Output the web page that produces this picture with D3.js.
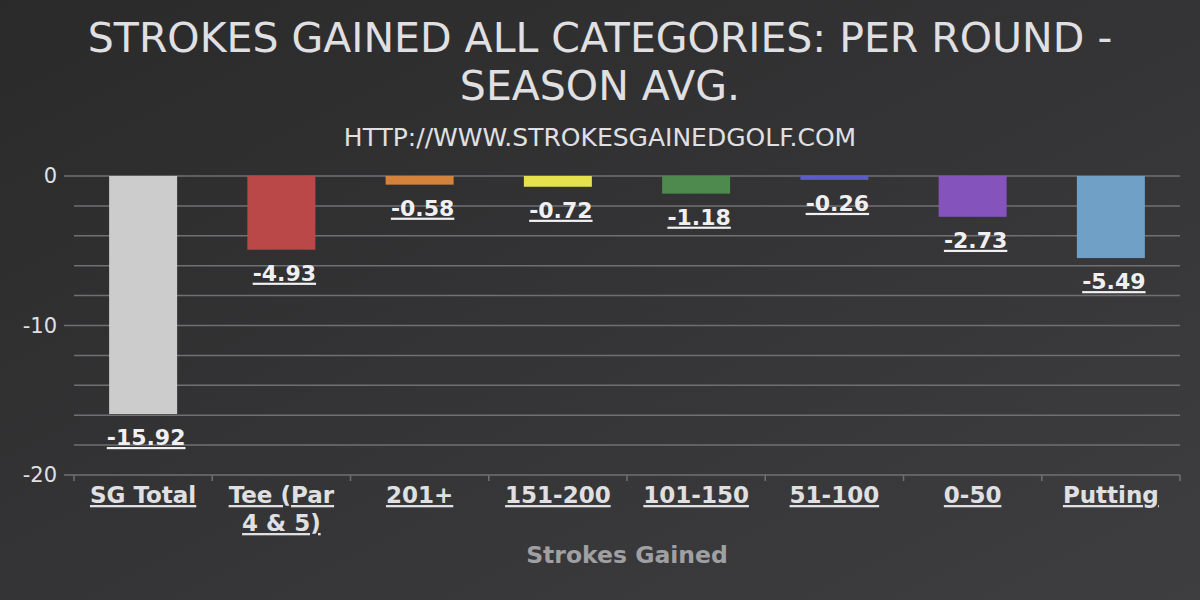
<!DOCTYPE html>
<html><head><meta charset="utf-8">
<script src="https://cdn.jsdelivr.net/npm/d3@7"></script>
<style>
html,body{margin:0;padding:0;background:#2a2a2b;}
svg text{font-family:"DejaVu Sans",Verdana,sans-serif;}
</style></head>
<body>
<svg id="chart" width="1200" height="600"></svg>
<script>
const categories = ["SG Total","Tee (Par 4 & 5)","201+","151-200","101-150","51-100","0-50","Putting"];
const values = [-15.92,-4.93,-0.58,-0.72,-1.18,-0.26,-2.73,-5.49];
const colors = ["#cccccc","#bb4848","#d4823c","#e6e24e","#4e8a4e","#5b5bcc","#8453bb","#70a0c5"];
const yTicks = [0,-10,-20];
const gridTicks = d3.range(0,-21,-2);
const titleLines = ["STROKES GAINED ALL CATEGORIES: PER ROUND -","SEASON AVG."];
const subtitle = "HTTP://WWW.STROKESGAINEDGOLF.COM";
const xTitle = "Strokes Gained";

(function(){
const svg = d3.select("#chart");
const W=1200,H=600;
const defs = svg.append("defs");
const grad = defs.append("linearGradient").attr("id","bg").attr("x1",0).attr("y1",0).attr("x2",1).attr("y2",1);
grad.append("stop").attr("offset","0%").attr("stop-color","#2a2a2b");
grad.append("stop").attr("offset","100%").attr("stop-color","#3e3e40");
svg.append("rect").attr("width",W).attr("height",H).attr("fill","url(#bg)");

const pL=74,pR=1180,pT=176,pB=475;
const x = d3.scaleBand().domain(categories).range([pL,pR]).paddingInner(0).paddingOuter(0);
const y = d3.scaleLinear().domain([-20,0]).range([pB,pT]);

svg.append("g").selectAll("line").data(gridTicks).join("line")
  .attr("x1",d=>yTicks.includes(d)?64:pL).attr("x2",pR)
  .attr("y1",d=>y(d)).attr("y2",d=>y(d))
  .attr("stroke","#707073").attr("stroke-width",1.5);

svg.append("g").selectAll("text").data(yTicks).join("text")
  .attr("x",57).attr("y",d=>y(d)).attr("dy","0.35em").attr("text-anchor","end")
  .attr("fill","#E0E0E3").style("font-size","21px").text(d=>d);

svg.append("g").selectAll("line").data(d3.range(categories.length+1)).join("line")
  .attr("x1",i=>pL+i*x.bandwidth()).attr("x2",i=>pL+i*x.bandwidth())
  .attr("y1",pB).attr("y2",pB+6).attr("stroke","#707073").attr("stroke-width",1.5);

const bw = 68;
svg.append("g").selectAll("rect").data(values).join("rect")
  .attr("x",(d,i)=>x(categories[i])+x.bandwidth()/2-bw/2)
  .attr("width",bw)
  .attr("y",y(0)).attr("height",d=>y(d)-y(0))
  .attr("fill",(d,i)=>colors[i]);

svg.append("g").selectAll("text").data(values).join("text")
  .attr("x",(d,i)=>x(categories[i])+x.bandwidth()/2+3)
  .attr("y",d=>y(d)+31)
  .attr("text-anchor","middle").attr("fill","#F0F0F3")
  .style("font-size","22px").style("font-weight","bold").style("text-decoration","underline")
  .text(d=>d.toFixed(2));

const catG = svg.append("g");
categories.forEach((c,i)=>{
  const cx = x(c)+x.bandwidth()/2;
  let lines=[c];
  if (c.length>10){ const w=c.split(" "); lines=[w.slice(0,2).join(" "), w.slice(2).join(" ")]; }
  const t = catG.append("text").attr("text-anchor","middle").attr("fill","#E0E0E3")
    .style("font-size","23px").style("font-weight","bold").style("text-decoration","underline");
  lines.forEach((l,j)=>t.append("tspan").attr("x",cx).attr("y",503+j*28).text(l));
});

svg.append("text").attr("x",(pL+pR)/2).attr("y",563).attr("text-anchor","middle")
  .attr("fill","#A0A0A3").style("font-size","23.5px").style("font-weight","bold").text(xTitle);

titleLines.forEach((l,i)=>svg.append("text").attr("x",600).attr("y",52+i*48).attr("text-anchor","middle")
  .attr("fill","#E0E0E3").style("font-size","41px").text(l));
svg.append("text").attr("x",600).attr("y",146).attr("text-anchor","middle")
  .attr("fill","#E0E0E3").style("font-size","25px").text(subtitle);
})();
</script>
</body></html>
